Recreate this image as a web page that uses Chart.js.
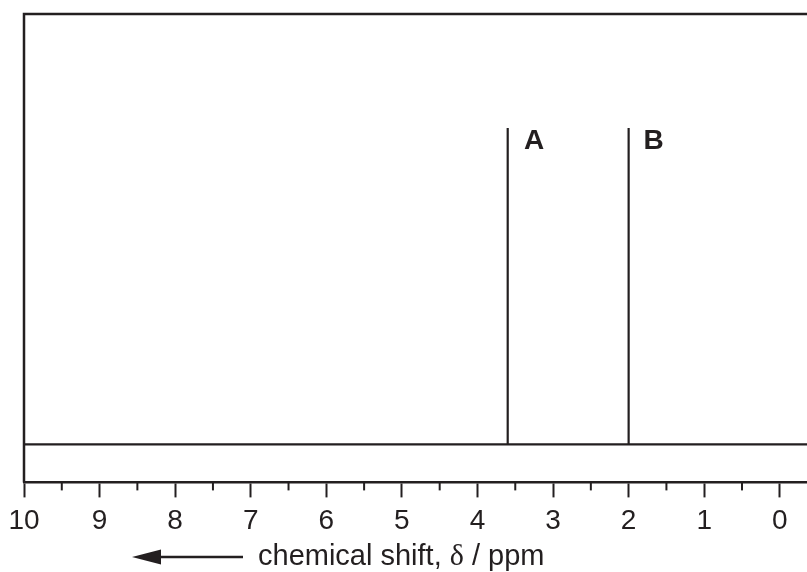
<!DOCTYPE html>
<html>
<head>
<meta charset="utf-8">
<script src="https://cdn.jsdelivr.net/npm/chart.js@4/dist/chart.umd.min.js"></script>
<style>
  html, body { margin: 0; padding: 0; background: #fff; }
  #wrap { width: 807px; height: 572px; }
</style>
</head>
<body>
<div id="wrap"><canvas id="nmrChart"></canvas></div>
<script>
// spectrum data
const peakShifts = [3.6, 2.0];
const peakHeights = [1, 1];
const peakLabels = ['A', 'B'];
const labelShifts = [3.25, 1.67];
const shiftMax = 10;
const shiftMin = -0.36;
const tickStep = 0.5;

const INK = '#231f20';

// build the stick spectrum from the peaks
function buildSpectrum() {
    const pts = [{ x: shiftMax, y: 0 }];
    peakShifts.forEach((s, i) => {
        pts.push({ x: s, y: 0 });
        pts.push({ x: s, y: peakHeights[i] });
        pts.push({ x: s, y: 0 });
    });
    pts.push({ x: shiftMin, y: 0 });
    return pts;
}

function isMajor(v) {
    return Math.abs(v - Math.round(v)) < 1e-6;
}

const framePlugin = {
    id: 'frame',
    afterDraw(chart) {
        const ctx = chart.ctx;
        const area = chart.chartArea;
        const xs = chart.scales.x;
        ctx.save();
        ctx.strokeStyle = INK;

        // left and top frame lines
        ctx.lineWidth = 2.5;
        ctx.beginPath();
        ctx.moveTo(area.left, area.bottom);
        ctx.lineTo(area.left, area.top);
        ctx.lineTo(chart.width, area.top);
        ctx.stroke();

        // minor ticks
        ctx.lineWidth = 2;
        xs.ticks.forEach(t => {
            if (isMajor(t.value)) return;
            const px = xs.getPixelForValue(t.value);
            ctx.beginPath();
            ctx.moveTo(px, area.bottom);
            ctx.lineTo(px, area.bottom + 8);
            ctx.stroke();
        });

        // peak labels
        ctx.fillStyle = INK;
        ctx.font = 'bold 28px "Liberation Sans", Arial, sans-serif';
        ctx.textAlign = 'center';
        ctx.textBaseline = 'alphabetic';
        const ys = chart.scales.y;
        peakLabels.forEach((lab, i) => {
            const px = xs.getPixelForValue(labelShifts[i]);
            const py = ys.getPixelForValue(peakHeights[i]);
            ctx.fillText(lab, px, py + 21);
        });

        // axis title with arrow
        const titleY = 565;
        const sans = '29px "Liberation Sans", Arial, sans-serif';
        const serif = '30px "Liberation Serif", "Times New Roman", serif';
        const parts = [['chemical shift, ', sans], ['\u03b4', serif], [' / ppm', sans]];
        ctx.textAlign = 'left';
        let x = 258;
        parts.forEach(p => {
            ctx.font = p[1];
            ctx.fillText(p[0], x, titleY);
            x += ctx.measureText(p[0]).width;
        });

        const ay = 557;
        ctx.lineWidth = 2.5;
        ctx.beginPath();
        ctx.moveTo(158, ay);
        ctx.lineTo(243, ay);
        ctx.stroke();
        ctx.beginPath();
        ctx.moveTo(132, ay);
        ctx.lineTo(161, ay - 7.5);
        ctx.lineTo(161, ay + 7.5);
        ctx.closePath();
        ctx.fill();

        ctx.restore();
    }
};

const ctx = document.getElementById('nmrChart').getContext('2d');
const nmrChart = new Chart(ctx, {
    type: 'scatter',
    data: {
        datasets: [{
            label: 'spectrum',
            data: buildSpectrum(),
            showLine: true,
            borderColor: INK,
            borderWidth: 2.2,
            pointRadius: 0,
            tension: 0,
            fill: false
        }]
    },
    options: {
        responsive: true,
        maintainAspectRatio: false,
        animation: false,
        devicePixelRatio: 1,
        layout: {
            padding: { left: 24, top: 14, right: 0, bottom: 27 }
        },
        plugins: {
            legend: { display: false },
            tooltip: { enabled: false }
        },
        scales: {
            x: {
                type: 'linear',
                reverse: true,
                min: shiftMin,
                max: shiftMax,
                border: { display: true, color: INK, width: 2.5 },
                grid: {
                    drawOnChartArea: false,
                    drawTicks: true,
                    tickLength: 15,
                    tickWidth: 2,
                    tickColor: c => isMajor(c.tick.value) ? INK : 'rgba(0,0,0,0)'
                },
                ticks: {
                    stepSize: tickStep,
                    includeBounds: false,
                    autoSkip: false,
                    maxRotation: 0,
                    padding: 7,
                    color: INK,
                    font: { family: '"Liberation Sans", Arial, sans-serif', size: 28 },
                    callback: v => isMajor(v) ? String(Math.round(v)) : ''
                }
            },
            y: {
                display: false,
                min: -0.12,
                max: 1.36
            }
        }
    },
    plugins: [framePlugin]
});
</script>
</body>
</html>
